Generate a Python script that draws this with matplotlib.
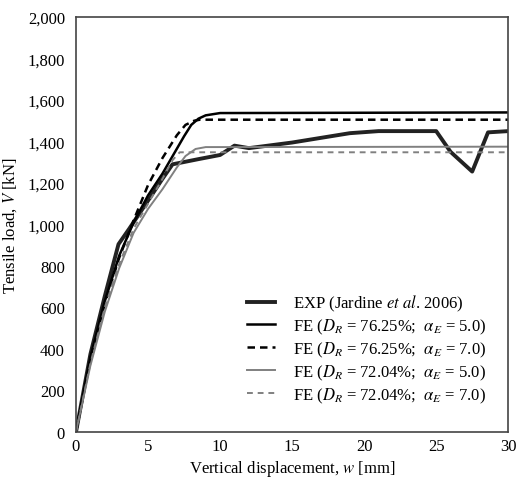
import matplotlib.pyplot as plt
from matplotlib.ticker import FuncFormatter

# Experimental curve (Jardine et al. 2006)
w_exp = [0, 1, 2, 2.95, 3.7, 5, 6, 6.7, 8.5, 10, 11, 12, 15, 19, 21, 25, 26, 27.5, 28.6, 30]
v_exp = [0, 375, 655, 905, 980, 1115, 1220, 1290, 1315, 1335, 1380, 1368, 1395, 1440, 1450, 1450, 1350, 1255, 1444, 1450]

# FE curves
w_fe1 = [0, 1, 2, 3, 4, 5, 6, 7, 7.5, 8, 8.5, 9, 10, 30]
v_fe1 = [0, 360, 630, 850, 1010, 1140, 1245, 1365, 1425, 1480, 1510, 1526, 1537, 1540]

w_fe2 = [0, 1, 2, 3, 4, 5, 6, 7, 7.6, 8.2, 8.6, 30]
v_fe2 = [0, 350, 620, 840, 1020, 1190, 1320, 1430, 1480, 1500, 1505, 1505]

w_fe3 = [0, 1, 2, 3, 4, 5, 6, 7, 7.6, 8.3, 9, 30]
v_fe3 = [0, 320, 580, 790, 960, 1075, 1170, 1275, 1330, 1364, 1373, 1375]

w_fe4 = [0, 1, 2, 3, 4, 5, 6, 6.7, 7.2, 30]
v_fe4 = [0, 330, 600, 810, 980, 1100, 1220, 1310, 1348, 1348]

plt.rcParams['font.family'] = ['Liberation Serif', 'DejaVu Serif']
plt.rcParams['mathtext.fontset'] = 'stix'

fig = plt.figure(figsize=(5.17, 4.81), dpi=100)
ax = fig.add_axes([0.147, 0.0998, 0.836, 0.8628])

ax.plot(w_exp, v_exp, color='#222222', lw=2.8, label=r'EXP (Jardine $\mathit{et\ al}$. 2006)')
ax.plot(w_fe1, v_fe1, color='black', lw=1.8, label=r'FE ($D_R$ = 76.25%;  $\alpha_E$ = 5.0)')
ax.plot(w_fe2, v_fe2, color='black', lw=1.8, ls=(0, (3, 2)), label=r'FE ($D_R$ = 76.25%;  $\alpha_E$ = 7.0)')
ax.plot(w_fe3, v_fe3, color='#808080', lw=1.4, label=r'FE ($D_R$ = 72.04%;  $\alpha_E$ = 5.0)')
ax.plot(w_fe4, v_fe4, color='#808080', lw=1.4, ls=(0, (3, 2.5)), label=r'FE ($D_R$ = 72.04%;  $\alpha_E$ = 7.0)')

ax.set_xlim(0, 30)
ax.set_ylim(0, 2000)
ax.set_xticks(range(0, 31, 5))
ax.set_yticks(range(0, 2001, 200))
ax.yaxis.set_major_formatter(FuncFormatter(lambda v, p: f'{int(v):,}'))
ax.tick_params(length=0, labelsize=12)
ax.tick_params(axis='x', pad=4)
ax.tick_params(axis='y', pad=8)
for s in ax.spines.values():
    s.set_color('#444444')
    s.set_linewidth(1.2)

ax.set_xlabel(r'Vertical displacement, $w$ [mm]', fontsize=12, labelpad=3)
ax.set_ylabel(r'Tensile load, $V$ [kN]', fontsize=12, labelpad=6)

ax.legend(loc='lower right', bbox_to_anchor=(0.985, 0.03), frameon=False, fontsize=12,
          handlelength=1.7, handletextpad=1.1, labelspacing=0.22)

fig.savefig('out.png', dpi=100)
